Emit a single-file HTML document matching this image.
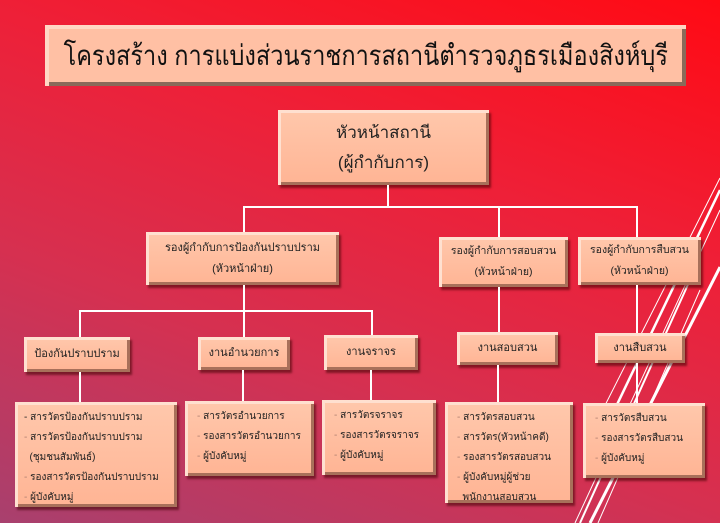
<!DOCTYPE html>
<html><head><meta charset="utf-8">
<style>
*{margin:0;padding:0;box-sizing:border-box}
body{width:720px;height:523px;overflow:hidden;position:relative;font-family:"Liberation Sans",sans-serif;
background:linear-gradient(20deg,#a8406e 0%,#d63050 35%,#ee2038 65%,#ff0a14 100%);}
.b{position:absolute;background:linear-gradient(#ffc8ac,#ffb494);color:#222;
box-shadow:inset 3px 3px 0 #ffe0d0,inset -3px -3px 0 #a8705a,2px 3px 2px rgba(60,0,0,.55);
display:flex;flex-direction:column;justify-content:center;align-items:center;text-align:center;font-size:11px;line-height:21px;white-space:nowrap}
.l{position:absolute;background:#fff}
.t{align-items:flex-start;justify-content:flex-start;text-align:left;padding:6px 0 0 12px;font-size:10.5px;line-height:20px}
.t span{color:#b08070}
</style></head><body>
<svg width="720" height="523" style="position:absolute;left:0;top:0">
<g stroke="#fff" fill="none">
<line x1="720" y1="267" x2="590" y2="523" stroke-width="3"/>
<line x1="720" y1="178" x2="590" y2="435" stroke-width="1"/>
<line x1="720" y1="190" x2="600" y2="440" stroke-width="2.5"/>
<line x1="720" y1="210" x2="575" y2="523" stroke-width="1"/>
<line x1="690" y1="280" x2="580" y2="523" stroke-width="2"/>
<line x1="700" y1="290" x2="598" y2="523" stroke-width="1"/>
</g></svg>

<div class="b" style="left:45px;top:25px;width:641px;height:61px;font-size:28px;box-shadow:inset 4px 4px 0 #ffd8c4,inset -4px -4px 0 #8a6a5a;background:#ffc0a4;color:#111"><span style="display:inline-block;transform:scaleX(0.84)">โครงสร้าง การแบ่งส่วนราชการสถานีตำรวจภูธรเมืองสิงห์บุรี</span></div>

<div class="b" style="left:278px;top:110px;width:211px;height:75px;font-size:17px;line-height:30px">หัวหน้าสถานี<br>(ผู้กำกับการ)</div>

<div class="l" style="left:387px;top:185px;width:2px;height:23px"></div>
<div class="l" style="left:243px;top:206px;width:395px;height:2px"></div>
<div class="l" style="left:243px;top:206px;width:2px;height:26px"></div>
<div class="l" style="left:498px;top:206px;width:2px;height:31px"></div>
<div class="l" style="left:636px;top:206px;width:2px;height:31px"></div>

<div class="b" style="left:146px;top:232px;width:193px;height:53px">รองผู้กำกับการป้องกันปราบปราม<br>(หัวหน้าฝ่าย)</div>
<div class="b" style="left:439px;top:237px;width:129px;height:50px;font-size:10.5px">รองผู้กำกับการสอบสวน<br>(หัวหน้าฝ่าย)</div>
<div class="b" style="left:578px;top:237px;width:123px;height:48px;font-size:10.5px">รองผู้กำกับการสืบสวน<br>(หัวหน้าฝ่าย)</div>

<div class="l" style="left:243px;top:285px;width:2px;height:26px"></div>
<div class="l" style="left:79px;top:310px;width:294px;height:2px"></div>
<div class="l" style="left:79px;top:310px;width:2px;height:27px"></div>
<div class="l" style="left:243px;top:310px;width:2px;height:27px"></div>
<div class="l" style="left:371px;top:310px;width:2px;height:25px"></div>
<div class="l" style="left:498px;top:287px;width:2px;height:45px"></div>
<div class="l" style="left:636px;top:285px;width:2px;height:48px"></div>

<div class="b" style="left:24px;top:337px;width:106px;height:35px">ป้องกันปราบปราม</div>
<div class="b" style="left:198px;top:337px;width:92px;height:33px">งานอำนวยการ</div>
<div class="b" style="left:324px;top:335px;width:94px;height:35px">งานจราจร</div>
<div class="b" style="left:457px;top:332px;width:101px;height:33px">งานสอบสวน</div>
<div class="b" style="left:595px;top:333px;width:90px;height:30px">งานสืบสวน</div>

<div class="l" style="left:79px;top:372px;width:2px;height:30px"></div>
<div class="l" style="left:242px;top:370px;width:2px;height:31px"></div>
<div class="l" style="left:370px;top:370px;width:2px;height:30px"></div>
<div class="l" style="left:497px;top:365px;width:2px;height:37px"></div>
<div class="l" style="left:636px;top:363px;width:2px;height:40px"></div>

<div class="b t" style="left:15px;top:402px;width:162px;height:105px;padding-left:9px;font-size:10px"><div>- สารวัตรป้องกันปราบปราม</div><div><span>- </span>สารวัตรป้องกันปราบปราม</div><div>&nbsp; (ชุมชนสัมพันธ์)</div><div><span>- </span>รองสารวัตรป้องกันปราบปราม</div><div><span>- </span>ผู้บังคับหมู่</div></div>
<div class="b t" style="left:185px;top:401px;width:129px;height:75px;font-size:10px"><div><span>- </span>สารวัตรอำนวยการ</div><div><span>- </span>รองสารวัตรอำนวยการ</div><div><span>- </span>ผู้บังคับหมู่</div></div>
<div class="b t" style="left:322px;top:400px;width:114px;height:75px;font-size:10px"><div><span>- </span>สารวัตรจราจร</div><div><span>- </span>รองสารวัตรจราจร</div><div><span>- </span>ผู้บังคับหมู่</div></div>
<div class="b t" style="left:445px;top:402px;width:128px;height:101px;font-size:10px"><div><span>- </span>สารวัตรสอบสวน</div><div><span>- </span>สารวัตร(หัวหน้าคดี)</div><div><span>- </span>รองสารวัตรสอบสวน</div><div><span>- </span>ผู้บังคับหมู่ผู้ช่วย</div><div>&nbsp; พนักงานสอบสวน</div></div>
<div class="b t" style="left:583px;top:403px;width:122px;height:75px;font-size:10px"><div><span>- </span>สารวัตรสืบสวน</div><div><span>- </span>รองสารวัตรสืบสวน</div><div><span>- </span>ผู้บังคับหมู่</div></div>
</body></html>
